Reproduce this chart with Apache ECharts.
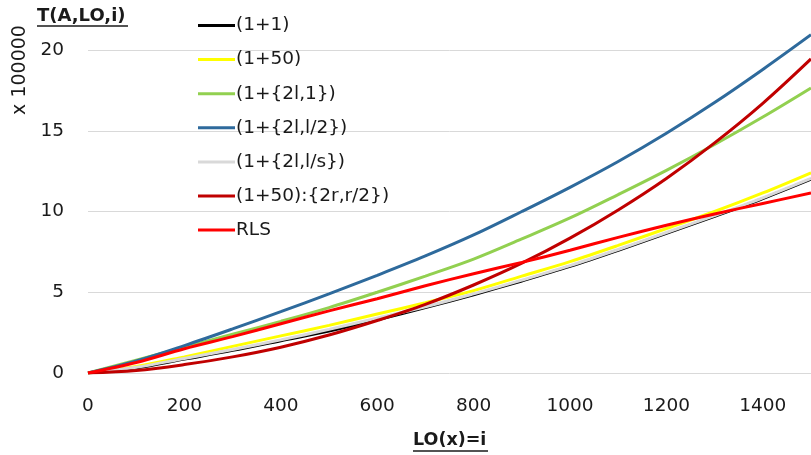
<!DOCTYPE html>
<html>
<head>
<meta charset="utf-8">
<script src="https://cdn.jsdelivr.net/npm/echarts@6/dist/echarts.min.js"></script>
<style>html,body{margin:0;padding:0;background:#fff}#c{width:811px;height:455px}</style>
</head>
<body>
<div id="c"></div>
<script>
const xs = [0,100,200,300,400,500,600,700,800,900,1000,1100,1200,1300,1400,1500];
const seriesNames = ['(1+1)','(1+50)','(1+{2l,1})','(1+{2l,l/2})','(1+{2l,l/s})','(1+50):{2r,r/2})','RLS'];
const s11      = [0,0.32,0.86,1.4,2.0,2.6,3.3,4.05,4.85,5.7,6.6,7.6,8.65,9.7,10.8,12.0];
const s150     = [0,0.4,1.0,1.65,2.3,2.95,3.65,4.35,5.1,6.0,6.9,7.9,8.95,10.0,11.15,12.4];
const s2l1     = [0,0.8,1.6,2.4,3.2,4.05,5.0,6.0,7.05,8.3,9.6,11.05,12.55,14.15,15.85,17.65];
const s2l2     = [0,0.75,1.7,2.73,3.8,4.9,6.05,7.25,8.55,10.0,11.5,13.1,14.85,16.75,18.8,20.95];
const s2ls     = [0,0.35,0.9,1.45,2.05,2.7,3.4,4.1,4.9,5.75,6.65,7.65,8.7,9.75,10.85,12.05];
const s150r    = [0,0.15,0.52,1.0,1.6,2.35,3.25,4.25,5.45,6.8,8.35,10.1,12.05,14.25,16.7,19.45];
const sRLS     = [0,0.65,1.5,2.25,3.05,3.85,4.6,5.4,6.15,6.85,7.6,8.4,9.15,9.85,10.5,11.15];
const yTicks = [0,5,10,15,20];
const xTicks = [0,200,400,600,800,1000,1200,1400];

const colors = ['#000000','#FFFF00','#92D050','#2E6A9C','#D9D9D9','#C00000','#FF0000'];
const allVals = [s11,s150,s2l1,s2l2,s2ls,s150r,sRLS];
const FONT = 'DejaVu Sans';

const chart = echarts.init(document.getElementById('c'), null, {renderer:'canvas'});
chart.setOption({
  animation:false,
  backgroundColor:'#ffffff',
  grid:{left:88, top:0, right:0, bottom:82, containLabel:false},
  xAxis:{type:'value', min:0, max:1500, interval:100,
    axisLine:{show:false}, axisTick:{show:false}, splitLine:{show:false},
    axisLabel:{fontFamily:FONT, fontSize:18.5, color:'#1a1a1a', margin:24, showMaxLabel:false,
      formatter:v => xTicks.includes(v) ? String(v) : ''}},
  yAxis:{type:'value', min:0, max:23.1, interval:5,
    axisLine:{show:false}, axisTick:{show:false},
    splitLine:{showMaxLine:false, lineStyle:{color:'#d9d9d9', width:1}},
    axisLabel:{fontFamily:FONT, fontSize:18.5, color:'#1a1a1a', margin:24, showMaxLabel:false,
      formatter:v => yTicks.includes(v) ? String(v) : ''}},
  legend:{orient:'vertical', left:193, top:11, itemWidth:37, itemHeight:20, itemGap:15.1,
    icon:'path://M0,0H37V3H0Z',
    textStyle:{fontFamily:FONT, fontSize:18.5, color:'#1a1a1a', padding:[0,0,0,-4]},
    data:seriesNames},
  series: seriesNames.map((n,i)=>({
    name:n, type:'line', smooth:0.35, symbol:'none', showSymbol:false,
    color:colors[i],
    lineStyle:{color:colors[i], width:3},
    data: xs.map((x,j)=>[x, allVals[i][j]])
  })),
  graphic:[
    {type:'text', left:37, top:7, style:{text:'T(A,LO,i)', font:'bold 18px "DejaVu Sans"', fill:'#1a1a1a'}},
    {type:'line', shape:{x1:37,y1:26,x2:128,y2:26}, style:{stroke:'#1a1a1a', lineWidth:1.5}},
    {type:'text', x:20, y:70, rotation:Math.PI/2, style:{text:'x 100000', font:'19px "DejaVu Sans"', fill:'#1a1a1a', align:'center', verticalAlign:'middle'}},
    {type:'text', left:413, top:431, style:{text:'LO(x)=i', font:'bold 17.5px "DejaVu Sans"', fill:'#1a1a1a'}},
    {type:'line', shape:{x1:413,y1:451,x2:488,y2:451}, style:{stroke:'#1a1a1a', lineWidth:1.5}}
  ]
});
</script>
</body>
</html>
